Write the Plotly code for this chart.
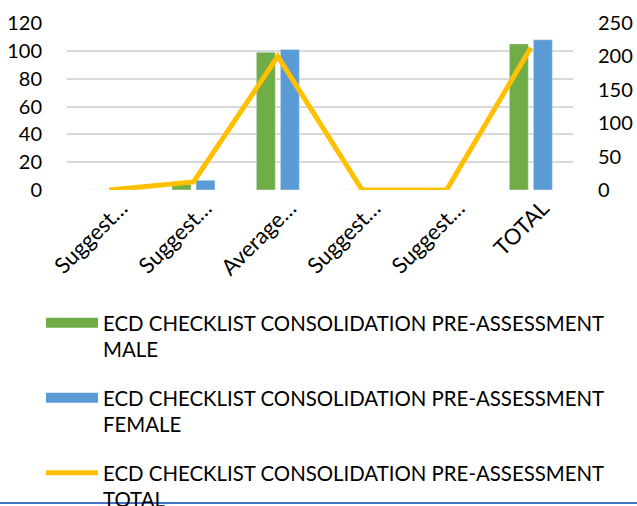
import plotly.graph_objects as go

categories = ["Suggest…", "Suggest…", "Average…", "Suggest…", "Suggest…", "TOTAL"]
male = [0, 4, 99, 0, 0, 105]
female = [0, 7, 101, 0, 0, 108]
total = [0, 12, 200, 0, 0, 213]
left_ticks = [0, 20, 40, 60, 80, 100, 120]
right_ticks = [0, 50, 100, 150, 200, 250]

names = [
    "ECD CHECKLIST CONSOLIDATION PRE-ASSESSMENT<br>MALE",
    "ECD CHECKLIST CONSOLIDATION PRE-ASSESSMENT<br>FEMALE",
    "ECD CHECKLIST CONSOLIDATION PRE-ASSESSMENT<br>TOTAL",
]
GREEN, BLUE, GOLD = "#70AD47", "#5B9BD5", "#FFC000"
FONT = "Lato"
W, H = 637, 506
ML, MR, MT, MB = 67, 64, 23, 316

x = list(range(len(categories)))

fig = go.Figure()
fig.add_trace(go.Bar(x=x, y=male, marker_color=GREEN, name=names[0], showlegend=False))
fig.add_trace(go.Bar(x=x, y=female, marker_color=BLUE, name=names[1], showlegend=False))
fig.add_trace(go.Scatter(x=x, y=total, yaxis="y2", mode="lines",
                         line=dict(color=GOLD, width=5), name=names[2], showlegend=False))
# legend entries
for nm, col, w in [(names[0], GREEN, 12), (names[1], BLUE, 12), (names[2], GOLD, 5)]:
    fig.add_trace(go.Scatter(x=[None], y=[None], mode="lines", name=nm,
                             line=dict(color=col, width=w), legendgroup=nm))

pw = W - ML - MR
ph = H - MT - MB
fig.update_layout(
    width=W, height=H,
    margin=dict(l=ML, r=MR, t=MT, b=MB, autoexpand=False),
    paper_bgcolor="white", plot_bgcolor="white",
    font=dict(family=FONT, size=20, color="#000000"),
    barmode="group", bargap=0.43, bargroupgap=0.21,
    xaxis=dict(tickvals=x, ticktext=categories, tickangle=-45, range=[-0.5, 5.5],
               showgrid=False, zeroline=False, showline=False, ticks="",
               tickfont=dict(size=22), ticklabelshift=12, automargin=False),
    yaxis=dict(range=[0, 120], tickvals=left_ticks, showgrid=True, gridcolor="#D9D9D9",
               gridwidth=1.5, zeroline=False, showline=False, ticks="outside",
               ticklen=20, tickcolor="rgba(0,0,0,0)", automargin=False),
    yaxis2=dict(range=[0, 250], tickvals=right_ticks, overlaying="y", side="right",
                showgrid=False, zeroline=False, showline=False, ticks="outside",
                ticklen=20, tickcolor="rgba(0,0,0,0)", automargin=False),
    legend=dict(x=(41 - ML) / pw, y=(MT + ph - 303) / ph, xanchor="left",
                yanchor="top", orientation="v", valign="top", itemwidth=52,
                tracegroupgap=19, font=dict(size=20.4), bgcolor="rgba(0,0,0,0)"),
    shapes=[dict(type="line", xref="paper", yref="paper", x0=-ML / pw,
                 x1=1 + MR / pw, y0=(MT + ph - 503) / ph, y1=(MT + ph - 503) / ph,
                 line=dict(color="#4472C4", width=2))],
)
fig.write_html("out.html", config={"displayModeBar": False},
               post_script="document.body.style.margin='0';document.body.style.overflow='hidden';")
